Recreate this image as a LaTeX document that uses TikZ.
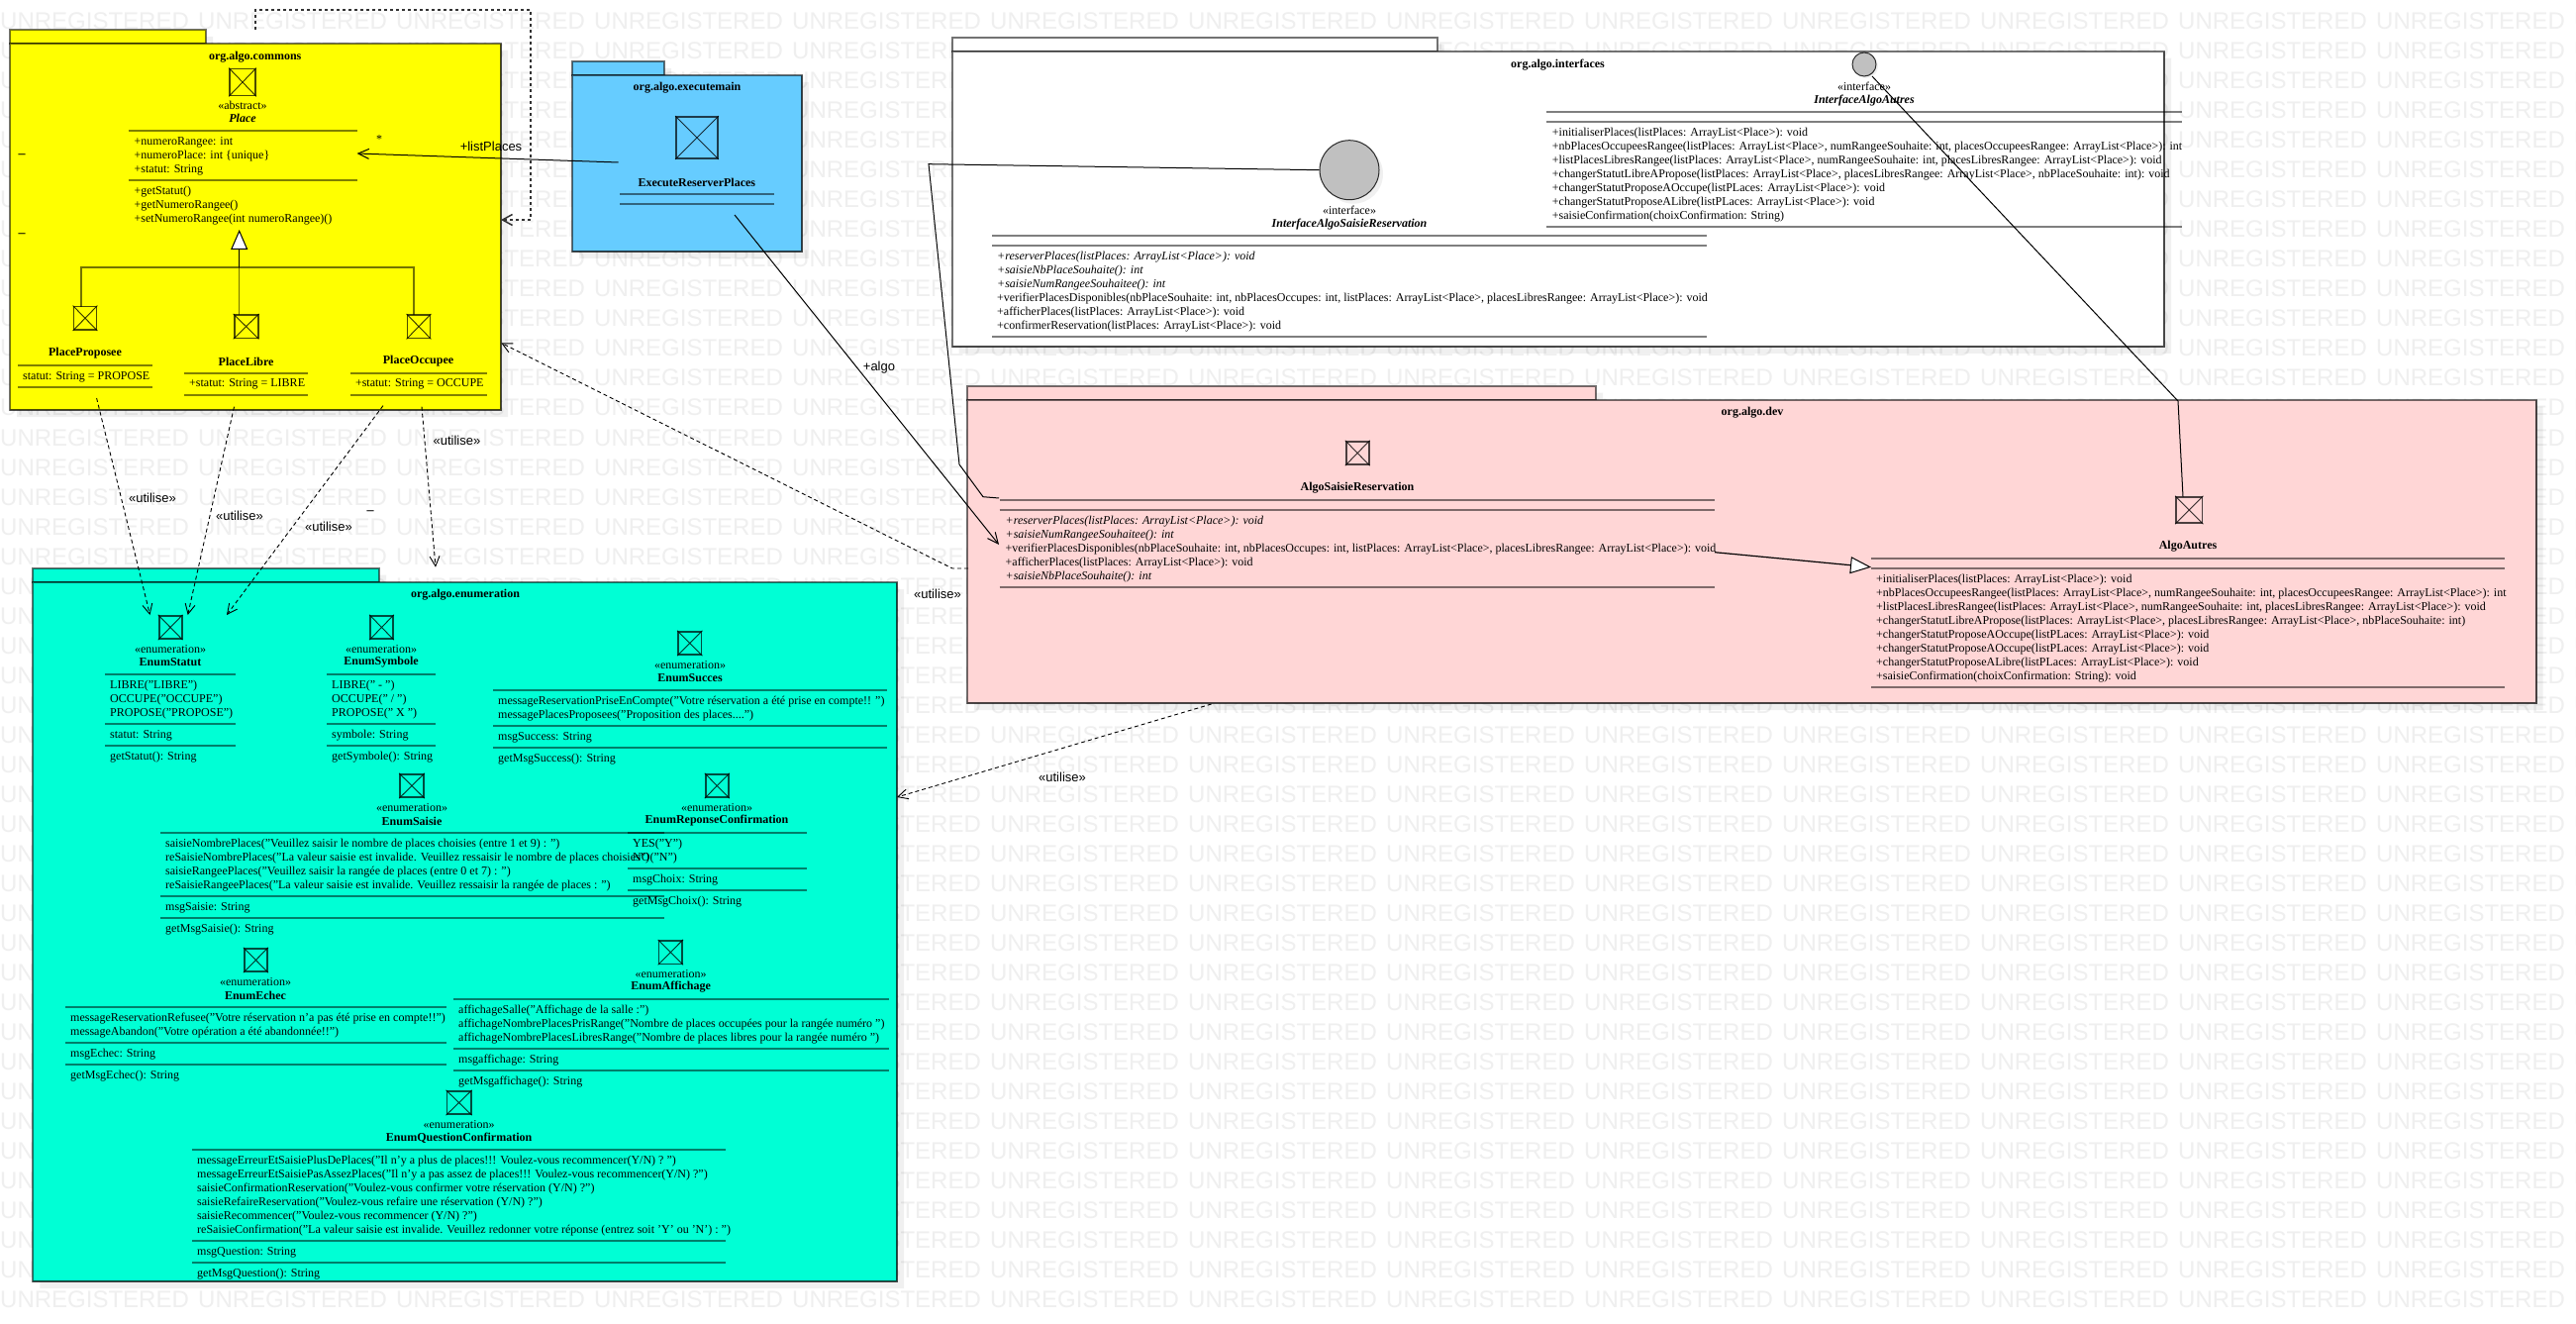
\documentclass[tikz,border=0pt]{standalone}
\usepackage{fontspec}
\setmainfont{Liberation Serif}
\setsansfont{Liberation Sans}
\usetikzlibrary{arrows.meta}
\definecolor{wmark}{HTML}{EFEFEF}
\definecolor{cyellow}{HTML}{FFFF00}
\definecolor{cblue}{HTML}{66CCFF}
\definecolor{cpink}{HTML}{FFD6D6}
\definecolor{cteal}{HTML}{00FFD5}
\definecolor{cgray}{HTML}{C0C0C0}
\tikzset{
  wmtext/.style={anchor=base west,inner sep=0pt,text=wmark,font=\sffamily\fontsize{24}{24}\selectfont},
  rows/.style={anchor=north west,inner sep=0pt,align=left,font=\rmfamily\fontsize{12}{14}\selectfont},
  ctext/.style={anchor=center,inner sep=0pt,font=\rmfamily\fontsize{12}{14}\selectfont},
  bname/.style={ctext,font=\rmfamily\bfseries\fontsize{12}{14}\selectfont},
  biname/.style={ctext,font=\rmfamily\bfseries\itshape\fontsize{12}{14}\selectfont},
  stereo/.style={ctext,font=\rmfamily\fontsize{12}{14}\selectfont},
  sanslabel/.style={anchor=center,inner sep=0pt,font=\sffamily\fontsize{13}{14}\selectfont},
  sep/.style={draw=black,draw opacity=.5,line width=2pt},
  assoc/.style={draw=black,line width=1pt},
  dep/.style={draw=black,line width=.9pt,dash pattern=on 4pt off 3pt,-{Straight Barb[length=10pt,width=10pt,line width=.9pt]}},
  selfdep/.style={draw=black!80,line width=2pt,dash pattern=on 3pt off 3pt,-{Straight Barb[length=10pt,width=11pt,line width=1.5pt]}},
  openarrow/.style={assoc,-{Straight Barb[length=11pt,width=10pt,line width=1pt]}},
  genarrow/.style={draw=black,line width=1.2pt,-{Triangle[open,fill=white,length=20pt,width=17pt,line width=1pt]}},
  tree/.style={draw=black,draw opacity=.55,line width=1.6pt},
  iconbox/.style={draw=black,draw opacity=.7,line width=1.8pt,inner sep=0pt,fill=none},
  ifcircle/.style={circle,draw=black,draw opacity=.8,fill=cgray,line width=1pt,inner sep=0pt},
}
% name, x left, x right, y top of tab, y top of body, y bottom, x tab right, fill
\newcommand{\pkg}[8]{%
  \fill[black,opacity=.06] (#2+7,#4+7)--(#7+7,#4+7)--(#7+7,#5+7)--(#3+7,#5+7)--(#3+7,#6+7)--(#2+7,#6+7)--cycle;
  \filldraw[fill=#8,draw=black,draw opacity=.55,line width=2pt] (#2,#4) rectangle (#7,#5);
  \filldraw[fill=#8,draw=black,draw opacity=.55,line width=2pt] (#2,#5) rectangle (#3,#6);
  \draw[black,opacity=.35,line width=2pt] (#3,#5)--(#3,#6)--(#2,#6);
}
% name, cx, cy, w, h
\newcommand{\icon}[5]{%
  \node[iconbox,minimum width=#4pt,minimum height=#5pt] (#1) at (#2,#3) {};
  \draw[black,opacity=.8,line width=.9pt] (#1.north west)--(#1.south east) (#1.north east)--(#1.south west);
}
% name, x left, y centre of first row, rows
\newcommand{\cmp}[4]{\node[rows] (#1) at (#2,#3-6) {\rule{0pt}{10pt}#4};}
% separator: x0, x1, y
\newcommand{\hsep}[3]{\draw[sep] (#1,#3)--(#2,#3);}
\begin{document}
\begin{tikzpicture}[x=1pt,y=-1pt]
\useasboundingbox (0,0) rectangle (2602,1337);
\fill[white] (0,0) rectangle (2602,1337);
\begin{scope}
\clip (0,0) rectangle (2602,1337);
\foreach \r in {0,...,43}{
  \foreach \c in {0,...,13}{
    \node[wmtext] (wm-\r-\c) at ({200*\c},{30+30*\r}) {UNREGISTERED};
  }
}
\end{scope}

% ---------- packages
\pkg{commons}{10}{506}{30}{43.6}{414}{208}{cyellow}
\pkg{executemain}{578}{810}{62}{76}{254}{671}{cblue}
\pkg{interfaces}{961.6}{2186}{37.7}{51.7}{350}{1451.7}{white}
\pkg{dev}{977}{2561.7}{389.7}{403.7}{710}{1612}{cpink}
\pkg{enumeration}{33.3}{906}{573.7}{588}{1294}{383}{cteal}

\node[bname] (pkgCommons) at (257.7,57.5) {org.algo.commons};
\node[bname] (pkgExec) at (694,89) {org.algo.executemain};
\node[bname] (pkgIface) at (1573.5,65.3) {org.algo.interfaces};
\node[bname] (pkgDev) at (1770,417) {org.algo.dev};
\node[bname] (pkgEnum) at (470,601) {org.algo.enumeration};

% ---------- Place
\icon{iPlace}{245}{83}{26}{27}
\node[stereo] (stPlace) at (245,106.4) {«abstract»};
\node[biname] (nPlace) at (245,119.6) {Place};
\hsep{129.7}{360.5}{131.8}
\hsep{129.7}{360.5}{181.8}
\cmp{aPlace}{135.5}{142}{+numeroRangee: int\\+numeroPlace: int \{unique\}\\+statut: String}
\cmp{oPlace}{135.5}{192}{+getStatut()\\+getNumeroRangee()\\+setNumeroRangee(int numeroRangee)()}
\node[ctext,font=\rmfamily\bfseries\fontsize{14}{14}\selectfont] (mk1) at (22,157.5) {–};
\node[ctext,font=\rmfamily\bfseries\fontsize{14}{14}\selectfont] (mk2) at (22,237.5) {–};
\node[ctext,font=\rmfamily\bfseries\fontsize{14}{14}\selectfont] (mk3) at (374,518) {–};

% ---------- Place subclasses
\icon{iProp}{86}{321.3}{23}{23.6}
\node[bname] (nProp) at (86,357) {PlaceProposee};
\hsep{17.8}{153.8}{368.6}
\hsep{17.8}{153.8}{390.7}
\cmp{aProp}{23}{379}{statut: String = PROPOSE}
\icon{iLibre}{248.6}{329.7}{24}{23.6}
\node[bname] (nLibre) at (248.6,365) {PlaceLibre};
\hsep{186}{310.6}{376.8}
\hsep{186}{310.6}{398.6}
\cmp{aLibre}{191}{386.8}{+statut: String = LIBRE}
\icon{iOcc}{423}{329.7}{23}{23.6}
\node[bname] (nOcc) at (422.5,365) {PlaceOccupee};
\hsep{354}{492}{376.8}
\hsep{354}{492}{398.6}
\cmp{aOcc}{358.8}{386.8}{+statut: String = OCCUPE}

\coordinate (genTip) at (241.7,232);
\coordinate (genMid) at (241.7,270);
\coordinate (treeL) at (82,270);
\coordinate (treeR) at (418,270);
\coordinate (propTop) at (82,309.6);
\coordinate (libreTop) at (241.7,318);
\coordinate (occTop) at (418,318);
\draw[tree] (propTop)--(treeL)--(treeR)--(occTop);
\draw[tree,line width=1.2pt] (libreTop)--(genMid);
\draw[genarrow] (genMid)--(genTip);

% ---------- ExecuteReserverPlaces
\icon{iExec}{704}{139}{42}{42}
\node[bname] (nExec) at (703.8,184) {ExecuteReserverPlaces};
\hsep{626}{782}{196}
\hsep{626}{782}{205.7}

% ---------- InterfaceAlgoSaisieReservation
\fill[black,opacity=.06] (1367,175.7) circle (30);
\node[ifcircle,minimum size=60pt] (cSaisie) at (1363,171.7) {};
\node[stereo] (stSaisie) at (1363,212.3) {«interface»};
\node[biname] (nIfSaisie) at (1363,226.7) {InterfaceAlgoSaisieReservation};
\hsep{1002}{1723.6}{238}
\hsep{1002}{1723.6}{247.7}
\hsep{1002}{1723.6}{340}
\cmp{oIfSaisie}{1007}{258.3}{\textit{+reserverPlaces(listPlaces: ArrayList<Place>): void}\\
\textit{+saisieNbPlaceSouhaite(): int}\\
\textit{+saisieNumRangeeSouhaitee(): int}\\
+verifierPlacesDisponibles(nbPlaceSouhaite: int, nbPlacesOccupes: int, listPlaces: ArrayList<Place>, placesLibresRangee: ArrayList<Place>): void\\
+afficherPlaces(listPlaces: ArrayList<Place>): void\\
+confirmerReservation(listPlaces: ArrayList<Place>): void}

% ---------- InterfaceAlgoAutres
\fill[black,opacity=.06] (1885,67) circle (12);
\node[ifcircle,minimum size=24pt] (cAutres) at (1883,65) {};
\node[stereo] (stAutres) at (1883,87.3) {«interface»};
\node[biname] (nIfAutres) at (1883,101.7) {InterfaceAlgoAutres};
\hsep{1562}{2203.7}{113}
\hsep{1562}{2203.7}{122.7}
\hsep{1562}{2203.7}{229}
\cmp{oIfAutres}{1567.7}{133}{+initialiserPlaces(listPlaces: ArrayList<Place>): void\\
+nbPlacesOccupeesRangee(listPlaces: ArrayList<Place>, numRangeeSouhaite: int, placesOccupeesRangee: ArrayList<Place>): int\\
+listPlacesLibresRangee(listPlaces: ArrayList<Place>, numRangeeSouhaite: int, placesLibresRangee: ArrayList<Place>): void\\
+changerStatutLibreAPropose(listPlaces: ArrayList<Place>, placesLibresRangee: ArrayList<Place>, nbPlaceSouhaite: int): void\\
+changerStatutProposeAOccupe(listPLaces: ArrayList<Place>): void\\
+changerStatutProposeALibre(listPLaces: ArrayList<Place>): void\\
+saisieConfirmation(choixConfirmation: String)}

% ---------- AlgoSaisieReservation
\icon{iAlgoS}{1371.2}{457.5}{23}{23.6}
\node[bname] (nAlgoS) at (1371,493) {AlgoSaisieReservation};
\hsep{1009.7}{1732}{505}
\hsep{1009.7}{1732}{515}
\hsep{1009.7}{1732}{592.7}
\cmp{oAlgoS}{1015.5}{525}{\textit{+reserverPlaces(listPlaces: ArrayList<Place>): void}\\
\textit{+saisieNumRangeeSouhaitee(): int}\\
+verifierPlacesDisponibles(nbPlaceSouhaite: int, nbPlacesOccupes: int, listPlaces: ArrayList<Place>, placesLibresRangee: ArrayList<Place>): void\\
+afficherPlaces(listPlaces: ArrayList<Place>): void\\
\textit{+saisieNbPlaceSouhaite(): int}}

% ---------- AlgoAutres
\icon{iAlgoA}{2211.2}{515}{26.5}{26.6}
\node[bname] (nAlgoA) at (2210,552) {AlgoAutres};
\hsep{1890}{2530}{563.7}
\hsep{1890}{2530}{573.7}
\hsep{1890}{2530}{693.7}
\cmp{oAlgoA}{1895}{584}{+initialiserPlaces(listPlaces: ArrayList<Place>): void\\
+nbPlacesOccupeesRangee(listPlaces: ArrayList<Place>, numRangeeSouhaite: int, placesOccupeesRangee: ArrayList<Place>): int\\
+listPlacesLibresRangee(listPlaces: ArrayList<Place>, numRangeeSouhaite: int, placesLibresRangee: ArrayList<Place>): void\\
+changerStatutLibreAPropose(listPlaces: ArrayList<Place>, placesLibresRangee: ArrayList<Place>, nbPlaceSouhaite: int)\\
+changerStatutProposeAOccupe(listPLaces: ArrayList<Place>): void\\
+changerStatutProposeAOccupe(listPLaces: ArrayList<Place>): void\\
+changerStatutProposeALibre(listPLaces: ArrayList<Place>): void\\
+saisieConfirmation(choixConfirmation: String): void}

% ---------- Enumerations
\icon{iStatut}{172.1}{633.5}{23}{23.6}
\node[stereo] (stStatut) at (172,655.3) {«enumeration»};
\node[bname] (nStatut) at (172,669) {EnumStatut};
\hsep{106}{238}{681}
\hsep{106}{238}{731}
\hsep{106}{238}{753}
\cmp{lStatut}{111}{691}{LIBRE("LIBRE")\\OCCUPE("OCCUPE")\\PROPOSE("PROPOSE")}
\cmp{aStatut}{111}{741.3}{statut: String}
\cmp{oStatut}{111}{763.3}{getStatut(): String}

\icon{iSymb}{385.5}{633.5}{23}{23.6}
\node[stereo] (stSymb) at (385,655.3) {«enumeration»};
\node[bname] (nSymb) at (385,669) {EnumSymbole};
\hsep{330}{440}{681}
\hsep{330}{440}{731}
\hsep{330}{440}{753}
\cmp{lSymb}{335}{691}{LIBRE(" - ")\\OCCUPE(" / ")\\PROPOSE(" X ")}
\cmp{aSymb}{335}{741.3}{symbole: String}
\cmp{oSymb}{335}{763.3}{getSymbole(): String}

\icon{iSucc}{696.8}{649.5}{23.5}{23.6}
\node[stereo] (stSucc) at (697,671.3) {«enumeration»};
\node[bname] (nSucc) at (697,685) {EnumSucces};
\hsep{498}{896}{697}
\hsep{498}{896}{733}
\hsep{498}{896}{755}
\cmp{lSucc}{503}{707}{messageReservationPriseEnCompte("Votre réservation a été prise en compte!! ")\\messagePlacesProposees("Proposition des places....")}
\cmp{aSucc}{503}{743}{msgSuccess: String}
\cmp{oSucc}{503}{765}{getMsgSuccess(): String}

\icon{iSais}{416}{793.5}{24}{23.6}
\node[stereo] (stSais) at (416,815.3) {«enumeration»};
\node[bname] (nSais) at (416,829) {EnumSaisie};
\hsep{162.4}{671}{841}
\hsep{162.4}{671}{905}
\hsep{162.4}{671}{927}
\cmp{lSais}{167}{851}{saisieNombrePlaces("Veuillez saisir le nombre de places choisies (entre 1 et 9) : ")\\
reSaisieNombrePlaces("La valeur saisie est invalide. Veuillez ressaisir le nombre de places choisies")\\
saisieRangeePlaces("Veuillez saisir la rangée de places (entre 0 et 7) : ")\\
reSaisieRangeePlaces("La valeur saisie est invalide. Veuillez ressaisir la rangée de places : ")}
\cmp{aSais}{167}{915}{msgSaisie: String}
\cmp{oSais}{167}{937}{getMsgSaisie(): String}

\icon{iRep}{724.3}{793.5}{23.3}{23.6}
\node[stereo] (stRep) at (724,815.3) {«enumeration»};
\node[bname] (nRep) at (724,829) {EnumReponseConfirmation};
\hsep{634}{815}{841}
\hsep{634}{815}{877}
\hsep{634}{815}{899}
\cmp{lRep}{639}{851}{YES("Y")\\NO("N")}
\cmp{aRep}{639}{887}{msgChoix: String}
\cmp{oRep}{639}{909}{getMsgChoix(): String}

\icon{iEch}{258.4}{969.5}{23.3}{23.6}
\node[stereo] (stEch) at (258,991.3) {«enumeration»};
\node[bname] (nEch) at (258,1005) {EnumEchec};
\hsep{66}{451}{1017}
\hsep{66}{451}{1053}
\hsep{66}{451}{1075}
\cmp{lEch}{71}{1027}{messageReservationRefusee("Votre réservation n'a pas été prise en compte!!")\\messageAbandon("Votre opération a été abandonnée!!")}
\cmp{aEch}{71}{1063}{msgEchec: String}
\cmp{oEch}{71}{1085}{getMsgEchec(): String}

\icon{iAff}{677.3}{961.6}{23.5}{23.6}
\node[stereo] (stAff) at (677.6,983.3) {«enumeration»};
\node[bname] (nAff) at (677.6,997) {EnumAffichage};
\hsep{458}{897.6}{1009}
\hsep{458}{897.6}{1059}
\hsep{458}{897.6}{1081}
\cmp{lAff}{463}{1019}{affichageSalle("Affichage de la salle :")\\affichageNombrePlacesPrisRange("Nombre de places occupées pour la rangée numéro ")\\affichageNombrePlacesLibresRange("Nombre de places libres pour la rangée numéro ")}
\cmp{aAff}{463}{1069}{msgaffichage: String}
\cmp{oAff}{463}{1091}{getMsgaffichage(): String}

\icon{iQue}{463.6}{1113.5}{24.3}{23.6}
\node[stereo] (stQue) at (463.6,1135.3) {«enumeration»};
\node[bname] (nQue) at (463.6,1149) {EnumQuestionConfirmation};
\hsep{194}{733}{1161}
\hsep{194}{733}{1253}
\hsep{194}{733}{1275}
\cmp{lQue}{199}{1171}{messageErreurEtSaisiePlusDePlaces("Il n'y a plus de places!!! Voulez-vous recommencer(Y/N) ? ")\\
messageErreurEtSaisiePasAssezPlaces("Il n'y a pas assez de places!!! Voulez-vous recommencer(Y/N) ?")\\
saisieConfirmationReservation("Voulez-vous confirmer votre réservation (Y/N) ?")\\
saisieRefaireReservation("Voulez-vous refaire une réservation (Y/N) ?")\\
saisieRecommencer("Voulez-vous recommencer (Y/N) ?")\\
reSaisieConfirmation("La valeur saisie est invalide. Veuillez redonner votre réponse (entrez soit 'Y' ou 'N') : ")}
\cmp{aQue}{199}{1263}{msgQuestion: String}
\cmp{oQue}{199}{1285}{getMsgQuestion(): String}

% ---------- connector ends
\coordinate (selfStart) at (258.3,30);
\coordinate (selfA) at (258.3,10);
\coordinate (selfB) at (536,10);
\coordinate (selfC) at (536,222);
\coordinate (selfEnd) at (506,222);
\coordinate (listFrom) at (624.6,164);
\coordinate (listTo) at (360.5,155);
\coordinate (algoFrom) at (742,217);
\coordinate (algoTo) at (1009,550);
\coordinate (ifA) at (938,165.7);
\coordinate (ifB) at (969,469);
\coordinate (ifC) at (993,501.7);
\coordinate (ifD) at (1009,503);
\coordinate (autFrom) at (1891,77);
\coordinate (autBend) at (2200,405);
\coordinate (autTo) at (2205,501.7);
\coordinate (devGenFrom) at (1732,557.7);
\coordinate (devGenTo) at (1890,572.7);
\coordinate (d1a) at (97.6,402);   \coordinate (d1b) at (151.5,621);
\coordinate (d2a) at (236.5,410.7);\coordinate (d2b) at (189.7,621);
\coordinate (d3a) at (387,409.6);  \coordinate (d3b) at (229,621);
\coordinate (d4a) at (426,410.7);  \coordinate (d4b) at (440,572.7);
\coordinate (d5a) at (978,574);    \coordinate (d5m) at (962,574);  \coordinate (d5b) at (506.3,346.4);
\coordinate (d6a) at (1223.6,711); \coordinate (d6b) at (906,805);

% ---------- connectors
\draw[selfdep] (selfStart)--(selfA)--(selfB)--(selfC)--(selfEnd);
\draw[openarrow] (listFrom)--(listTo);
\draw[openarrow] (algoFrom)--(algoTo);
\draw[assoc] (cSaisie.west)--(ifA)--(ifB)--(ifC)--(ifD);
\draw[assoc] (autFrom)--(autBend)--(autTo);
\draw[genarrow,-{Triangle[open,fill=white,length=21pt,width=17pt,line width=1pt]}] (devGenFrom)--(devGenTo);
\draw[dep] (d1a)--(d1b);
\draw[dep] (d2a)--(d2b);
\draw[dep] (d3a)--(d3b);
\draw[dep] (d4a)--(d4b);
\draw[dep] (d5a)--(d5m)--(d5b);
\draw[dep] (d6a)--(d6b);

% ---------- connector labels
\node[sanslabel] (lListPlaces) at (496,147.5) {+listPlaces};
\node[ctext] (lStar) at (383,141) {*};
\node[sanslabel] (lAlgo) at (888,371) {+algo};
\node[sanslabel] (u1) at (154,503) {«utilise»};
\node[sanslabel] (u2) at (242,521) {«utilise»};
\node[sanslabel] (u3) at (332,532) {«utilise»};
\node[sanslabel] (u4) at (461.5,445) {«utilise»};
\node[sanslabel] (u5) at (947,600) {«utilise»};
\node[sanslabel] (u6) at (1073,785) {«utilise»};
\end{tikzpicture}
\end{document}
